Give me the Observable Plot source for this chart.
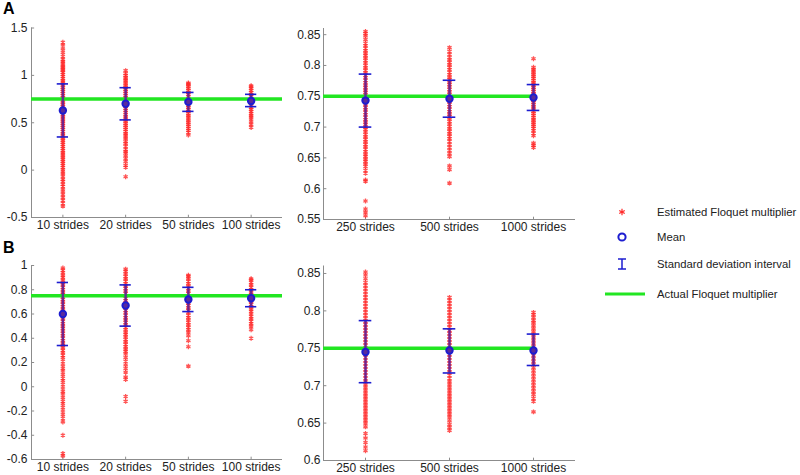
<!DOCTYPE html>
<html><head><meta charset="utf-8">
<script src="https://cdn.jsdelivr.net/npm/d3@7"></script>
<script src="https://cdn.jsdelivr.net/npm/@observablehq/plot@0.6"></script>
<style>
body{margin:0;background:#fff;font-family:"Liberation Sans",Arial,sans-serif;}
#c{position:relative;width:800px;height:475px;overflow:hidden;}
.p{position:absolute;}
.lab{position:absolute;font-weight:bold;font-size:16px;color:#000;}
</style></head><body><div id="c"></div>
<script>
// ---------- categories ----------
const leftCats = ["10 strides", "20 strides", "50 strides", "100 strides"];
const rightCats = ["250 strides", "500 strides", "1000 strides"];
const actualMultiplier = 0.75;

// ---------- tick labels ----------
const aLeftTicks = [-0.5, 0, 0.5, 1, 1.5];
const aRightTicks = [0.55, 0.6, 0.65, 0.7, 0.75, 0.8, 0.85];
const bLeftTicks = [-0.6, -0.4, -0.2, 0, 0.2, 0.4, 0.6, 0.8, 1];
const bRightTicks = [0.6, 0.65, 0.7, 0.75, 0.8, 0.85];

// ---------- panel A: estimates ----------
const aL10 = [1.35, 1.32, 1.28, 1.24, 1.2, 1.17, 1.15, 1.13, 1.11, 1.09, 1.08, 1.06, 1.05, 1.03, 1.01, 0.99, 0.97, 0.95, 0.93, 0.91, 0.89, 0.87, 0.85, 0.83, 0.81, 0.79, 0.77, 0.75, 0.73, 0.71, 0.69, 0.67, 0.65, 0.63, 0.61, 0.59, 0.57, 0.55, 0.53, 0.51, 0.49, 0.47, 0.45, 0.43, 0.41, 0.39, 0.37, 0.35, 0.33, 0.31, 0.29, 0.27, 0.25, 0.23, 0.21, 0.19, 0.17, 0.15, 0.13, 0.11, 0.09, 0.07, 0.05, 0.03, 0.01, -0.02, -0.04, -0.07, -0.1, -0.12, -0.15, -0.17, -0.2, -0.23, -0.26, -0.29, -0.32, -0.35, -0.38];
const aL20 = [1.05, 1.02, 1.0, 0.98, 0.97, 0.95, 0.93, 0.91, 0.89, 0.87, 0.85, 0.83, 0.81, 0.79, 0.77, 0.75, 0.73, 0.71, 0.69, 0.67, 0.65, 0.63, 0.61, 0.59, 0.57, 0.55, 0.53, 0.51, 0.49, 0.47, 0.45, 0.43, 0.41, 0.39, 0.37, 0.35, 0.33, 0.3, 0.28, 0.25, 0.22, 0.2, 0.18, 0.15, 0.12, 0.09, 0.05, 0.03, -0.07];
const aL50 = [0.92, 0.91, 0.9, 0.88, 0.86, 0.84, 0.82, 0.8, 0.78, 0.76, 0.74, 0.72, 0.7, 0.68, 0.66, 0.64, 0.62, 0.6, 0.58, 0.56, 0.54, 0.52, 0.5, 0.48, 0.46, 0.44, 0.42, 0.4, 0.37];
const aL100 = [0.89, 0.88, 0.86, 0.84, 0.82, 0.8, 0.78, 0.76, 0.74, 0.72, 0.7, 0.68, 0.66, 0.64, 0.62, 0.6, 0.58, 0.56, 0.54, 0.51, 0.48, 0.45];
const aR250 = [0.855, 0.852, 0.848, 0.842, 0.836, 0.832, 0.828, 0.824, 0.82, 0.816, 0.812, 0.808, 0.804, 0.8, 0.796, 0.792, 0.788, 0.784, 0.78, 0.776, 0.772, 0.768, 0.764, 0.76, 0.756, 0.752, 0.748, 0.744, 0.74, 0.736, 0.732, 0.728, 0.724, 0.72, 0.716, 0.712, 0.708, 0.704, 0.7, 0.696, 0.692, 0.688, 0.684, 0.68, 0.676, 0.672, 0.668, 0.664, 0.66, 0.656, 0.652, 0.648, 0.644, 0.64, 0.636, 0.63, 0.625, 0.614, 0.612, 0.58, 0.567, 0.562, 0.556];
const aR500 = [0.829, 0.823, 0.818, 0.813, 0.809, 0.805, 0.801, 0.797, 0.793, 0.789, 0.785, 0.781, 0.777, 0.773, 0.769, 0.765, 0.761, 0.757, 0.753, 0.749, 0.745, 0.741, 0.737, 0.733, 0.729, 0.725, 0.721, 0.717, 0.713, 0.709, 0.705, 0.701, 0.697, 0.693, 0.689, 0.685, 0.681, 0.677, 0.672, 0.667, 0.662, 0.657, 0.652, 0.637, 0.631, 0.609];
const aR1000 = [0.811, 0.797, 0.794, 0.791, 0.788, 0.785, 0.782, 0.779, 0.776, 0.773, 0.77, 0.767, 0.764, 0.761, 0.758, 0.755, 0.752, 0.749, 0.746, 0.743, 0.74, 0.737, 0.734, 0.731, 0.728, 0.725, 0.722, 0.719, 0.716, 0.713, 0.71, 0.707, 0.704, 0.701, 0.698, 0.694, 0.69, 0.686, 0.674, 0.67, 0.667];

// ---------- panel A: mean and SD interval ----------
const aLeftMean = [0.63, 0.70, 0.72, 0.73];
const aLeftUpper = [0.91, 0.87, 0.82, 0.80];
const aLeftLower = [0.35, 0.53, 0.62, 0.67];
const aRightMean = [0.743, 0.746, 0.748];
const aRightUpper = [0.786, 0.776, 0.769];
const aRightLower = [0.700, 0.716, 0.727];

// ---------- panel B: estimates ----------
const bL10 = [0.98, 0.96, 0.94, 0.92, 0.9, 0.88, 0.86, 0.84, 0.82, 0.8, 0.78, 0.76, 0.74, 0.72, 0.7, 0.68, 0.66, 0.64, 0.62, 0.6, 0.58, 0.56, 0.54, 0.52, 0.5, 0.48, 0.46, 0.44, 0.42, 0.4, 0.38, 0.36, 0.34, 0.32, 0.3, 0.28, 0.26, 0.24, 0.21, 0.18, 0.15, 0.13, 0.1, 0.07, 0.05, 0.02, -0.01, -0.04, -0.06, -0.09, -0.12, -0.14, -0.17, -0.2, -0.23, -0.26, -0.29, -0.4, -0.55, -0.57];
const bL20 = [0.97, 0.95, 0.93, 0.91, 0.89, 0.87, 0.85, 0.83, 0.81, 0.79, 0.77, 0.75, 0.73, 0.71, 0.69, 0.67, 0.65, 0.63, 0.61, 0.59, 0.57, 0.55, 0.53, 0.51, 0.49, 0.47, 0.45, 0.43, 0.41, 0.39, 0.37, 0.35, 0.33, 0.31, 0.29, 0.27, 0.24, 0.21, 0.18, 0.15, 0.12, 0.08, 0.06, -0.08, -0.12];
const bL50 = [0.92, 0.91, 0.89, 0.87, 0.85, 0.83, 0.81, 0.79, 0.77, 0.75, 0.73, 0.71, 0.69, 0.67, 0.65, 0.63, 0.61, 0.59, 0.57, 0.55, 0.53, 0.51, 0.49, 0.47, 0.45, 0.42, 0.38, 0.33, 0.17];
const bL100 = [0.89, 0.88, 0.86, 0.84, 0.82, 0.8, 0.78, 0.76, 0.74, 0.72, 0.7, 0.68, 0.66, 0.64, 0.62, 0.6, 0.58, 0.56, 0.54, 0.52, 0.5, 0.47, 0.4];
const bR250 = [0.852, 0.848, 0.843, 0.838, 0.834, 0.83, 0.826, 0.822, 0.818, 0.814, 0.81, 0.806, 0.802, 0.798, 0.794, 0.79, 0.786, 0.782, 0.778, 0.774, 0.77, 0.766, 0.762, 0.758, 0.754, 0.75, 0.746, 0.742, 0.738, 0.734, 0.73, 0.726, 0.722, 0.718, 0.714, 0.71, 0.706, 0.702, 0.698, 0.694, 0.69, 0.686, 0.682, 0.678, 0.674, 0.67, 0.666, 0.662, 0.658, 0.654, 0.65, 0.645, 0.636, 0.63, 0.624, 0.618, 0.613];
const bR500 = [0.818, 0.814, 0.81, 0.806, 0.802, 0.798, 0.794, 0.79, 0.786, 0.782, 0.778, 0.774, 0.77, 0.766, 0.762, 0.758, 0.754, 0.75, 0.746, 0.742, 0.738, 0.734, 0.73, 0.726, 0.722, 0.718, 0.714, 0.71, 0.706, 0.702, 0.698, 0.694, 0.69, 0.686, 0.682, 0.678, 0.674, 0.67, 0.666, 0.662, 0.658, 0.653, 0.648, 0.644, 0.64];
const bR1000 = [0.798, 0.795, 0.791, 0.787, 0.784, 0.78, 0.776, 0.772, 0.768, 0.764, 0.76, 0.756, 0.752, 0.748, 0.744, 0.74, 0.736, 0.732, 0.728, 0.724, 0.72, 0.716, 0.712, 0.708, 0.704, 0.7, 0.696, 0.692, 0.688, 0.683, 0.679, 0.665];

// ---------- panel B: mean and SD interval ----------
const bLeftMean = [0.60, 0.67, 0.72, 0.73];
const bLeftUpper = [0.86, 0.84, 0.82, 0.80];
const bLeftLower = [0.34, 0.50, 0.62, 0.66];
const bRightMean = [0.745, 0.747, 0.747];
const bRightUpper = [0.787, 0.776, 0.769];
const bRightLower = [0.704, 0.717, 0.727];

// ---------- legend ----------
const legendLabels = ["Estimated Floquet multiplier", "Mean", "Standard deviation interval", "Actual Floquet multiplier"];

const RED = "#ff2a2a", BLUE = "#1d1dd0", BAR = "#5a1f9a", GREEN = "#22e622", AXIS = "#8c8c8c";

const container = document.getElementById("c");

function panel(o) {
  const n = o.cats.length;
  const xs = o.cats.map((c, k) => k + 1);
  const pts = o.cols.flatMap((arr, k) => arr.map(v => ({i: k + 1, v})));
  const stats = o.mean.map((m, k) => ({i: k + 1, m, lo: o.lower[k], hi: o.upper[k]}));
  const [y0, y1] = o.ydomain;
  const chart = Plot.plot({
    width: o.width, height: o.height,
    marginLeft: o.ml, marginRight: o.mr, marginTop: o.mt, marginBottom: o.mb,
    style: {fontFamily: '"Liberation Sans", Arial, sans-serif', fontSize: "12px", color: "#222", background: "transparent", overflow: "visible"},
    x: {domain: [0.5, n + 0.5], axis: null},
    y: {domain: o.ydomain, axis: null},
    marks: [
      Plot.ruleX([0.5], {stroke: AXIS, strokeWidth: 1}),
      Plot.ruleY([y0], {stroke: AXIS, strokeWidth: 1}),
      Plot.ruleY(o.yticks, {x1: 0.5, x2: 0.5 + o.tx, stroke: AXIS}),
      Plot.ruleX(xs, {y1: y0, y2: y0 + (y1 - y0) * 0.012, stroke: AXIS}),
      Plot.axisY(o.yticks, {tickSize: 0, tickPadding: o.tp, label: null, tickFormat: d => String(d), fill: "#222", fontSize: 12}),
      Plot.axisX(xs, {tickSize: 0, tickPadding: 3, label: null, tickFormat: i => o.cats[i - 1], fill: "#222", fontSize: 12}),
      Plot.dot(pts, {x: "i", y: "v", symbol: "asterisk", r: 2.3, stroke: RED, strokeWidth: 1.3, strokeOpacity: 0.8}),
      Plot.ruleY([actualMultiplier], {x1: 0.5, x2: o.greenEnd, stroke: GREEN, strokeWidth: 3.5}),
      Plot.ruleX(stats, {x: "i", y1: "lo", y2: "hi", stroke: BAR, strokeWidth: 2.5, strokeOpacity: 0.85}),
      Plot.ruleY(stats, {y: "hi", x1: d => d.i - o.cap, x2: d => d.i + o.cap, stroke: BLUE, strokeWidth: 1.6}),
      Plot.ruleY(stats, {y: "lo", x1: d => d.i - o.cap, x2: d => d.i + o.cap, stroke: BLUE, strokeWidth: 1.6}),
      Plot.dot(stats, {x: "i", y: "m", r: 3.2, stroke: BLUE, strokeWidth: 2, fill: "#5a2a9c"})
    ]
  });
  chart.classList.add("p");
  chart.style.left = o.left + "px";
  chart.style.top = o.top + "px";
  container.appendChild(chart);
}

panel({cats: leftCats, cols: [aL10, aL20, aL50, aL100], mean: aLeftMean, upper: aLeftUpper, lower: aLeftLower,
  ydomain: [-0.5, 1.5], yticks: aLeftTicks, greenEnd: 4.5, cap: 0.09, tx: 0.05, tp: 4,
  left: 0, top: 15, width: 290, height: 225, ml: 31, mr: 8, mt: 12.5, mb: 23});
panel({cats: rightCats, cols: [aR250, aR500, aR1000], mean: aRightMean, upper: aRightUpper, lower: aRightLower,
  ydomain: [0.55, 0.86], yticks: aRightTicks, greenEnd: 3, cap: 0.075, tx: 0.04, tp: 3,
  left: 290, top: 15, width: 300, height: 225, ml: 33, mr: 15, mt: 13, mb: 21});
panel({cats: leftCats, cols: [bL10, bL20, bL50, bL100], mean: bLeftMean, upper: bLeftUpper, lower: bLeftLower,
  ydomain: [-0.6, 1], yticks: bLeftTicks, greenEnd: 4.5, cap: 0.09, tx: 0.05, tp: 4,
  left: 0, top: 250, width: 290, height: 225, ml: 31, mr: 8, mt: 15, mb: 16});
panel({cats: rightCats, cols: [bR250, bR500, bR1000], mean: bRightMean, upper: bRightUpper, lower: bRightLower,
  ydomain: [0.6, 0.86], yticks: bRightTicks, greenEnd: 3, cap: 0.075, tx: 0.04, tp: 3,
  left: 290, top: 250, width: 300, height: 225, ml: 33, mr: 15, mt: 15.5, mb: 15});

// panel letters
[["A", 3, 0], ["B", 3, 239]].forEach(([t, x, y]) => {
  const d = document.createElement("div");
  d.className = "lab"; d.textContent = t;
  d.style.left = x + "px"; d.style.top = y + "px";
  container.appendChild(d);
});

// legend
const ns = "http://www.w3.org/2000/svg";
const lg = document.createElementNS(ns, "svg");
lg.setAttribute("width", 210); lg.setAttribute("height", 110);
lg.style.position = "absolute"; lg.style.left = "590px"; lg.style.top = "195px";
const rows = [17, 42, 69, 99];
function el(tag, attrs) { const e = document.createElementNS(ns, tag); for (const k in attrs) e.setAttribute(k, attrs[k]); lg.appendChild(e); return e; }
const sym = d3.symbol(d3.symbolAsterisk, 28)();
el("path", {d: sym, transform: `translate(32,${rows[0]})`, stroke: RED, "stroke-width": 1.2, fill: "none"});
el("circle", {cx: 32, cy: rows[1], r: 3.6, stroke: BLUE, "stroke-width": 2, fill: "none"});
el("line", {x1: 32, x2: 32, y1: rows[2] - 5, y2: rows[2] + 5, stroke: BLUE, "stroke-width": 1.5});
el("line", {x1: 28, x2: 36, y1: rows[2] - 5, y2: rows[2] - 5, stroke: BLUE, "stroke-width": 1.5});
el("line", {x1: 28, x2: 36, y1: rows[2] + 5, y2: rows[2] + 5, stroke: BLUE, "stroke-width": 1.5});
el("line", {x1: 15, x2: 55, y1: rows[3], y2: rows[3], stroke: GREEN, "stroke-width": 3});
legendLabels.forEach((t, k) => {
  const tx = el("text", {x: 67, y: rows[k], dy: "0.35em", "font-size": 11.3, fill: "#222", "font-family": '"Liberation Sans", Arial, sans-serif'});
  tx.textContent = t;
});
container.appendChild(lg);
</script>
</body></html>
